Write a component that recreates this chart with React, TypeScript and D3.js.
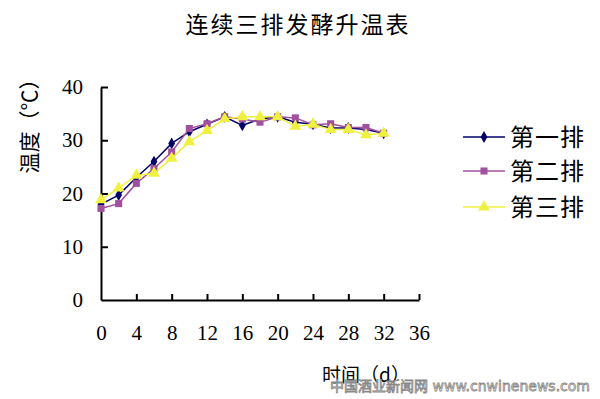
import { useEffect, useRef } from 'react';
import * as d3 from 'd3';

const days = [0, 2, 4, 6, 8, 10, 12, 14, 16, 18, 20, 22, 24, 26, 28, 30, 32];
const row1 = [18, 19.7, 23, 26, 29.4, 31.6, 33, 34.4, 32.8, 34, 34.4, 33.4, 33, 32.3, 32.3, 32, 31.3];
const row2 = [17.2, 18.1, 21.9, 24.7, 27.8, 32.2, 33.1, 34.4, 34, 33.4, 34.4, 34.2, 32.9, 33.1, 32.4, 32.4, 31.3];
const row3 = [18.8, 21, 23.4, 23.8, 26.6, 29.7, 31.8, 34, 34.4, 34.4, 34.4, 32.6, 33, 32, 32, 31, 31.3];
const seriesNames = ['第一排', '第二排', '第三排'];
const xTicks = [0, 4, 8, 12, 16, 20, 24, 28, 32, 36];
const yTicks = [0, 10, 20, 30, 40];

const colors = ['#000066', '#a0509f', '#f0f040'];
const symbols = [d3.symbolDiamond, d3.symbolSquare, d3.symbolTriangle];
const symSizes = [40, 50, 60];

const W = 600;
const H = 399;
const FONT = '"Liberation Serif", "Noto Sans CJK SC", serif';
const CJK = '"Noto Sans CJK SC", sans-serif';

const App = () => {
    const svgRef = useRef<SVGSVGElement | null>(null);

    useEffect(() => {
        if (!svgRef.current) return;
        const svg = d3.select(svgRef.current);
        svg.selectAll('*').remove();

        const x = d3.scaleLinear().domain([0, 36]).range([101, 419]);
        const y = d3.scaleLinear().domain([0, 40]).range([300, 87]);

        svg.append('rect').attr('width', W).attr('height', H).attr('fill', '#fff');

        // title
        svg.append('text')
            .attr('x', 298).attr('y', 33)
            .attr('text-anchor', 'middle')
            .attr('font-family', CJK)
            .attr('font-size', 23)
            .attr('letter-spacing', 2)
            .text('连续三排发酵升温表');

        // axes
        const yAxis = svg.append('g')
            .attr('transform', 'translate(101,0)')
            .call(d3.axisLeft(y).tickValues(yTicks).tickSizeInner(-7).tickSizeOuter(0).tickPadding(18));
        const xAxis = svg.append('g')
            .attr('transform', 'translate(0,300)')
            .call(d3.axisBottom(x).tickValues(xTicks).tickSizeInner(-6).tickSizeOuter(0).tickPadding(25));
        [yAxis, xAxis].forEach((g) => {
            g.select('.domain').attr('stroke', '#000').attr('stroke-width', 2);
            g.selectAll('.tick line').attr('stroke', '#000').attr('stroke-width', 2);
            g.selectAll('.tick text')
                .attr('font-family', FONT)
                .attr('font-size', 21)
                .attr('fill', '#000');
        });
        xAxis.selectAll('.tick').filter((d) => d === 0).select('line').remove();
        yAxis.selectAll('.tick').filter((d) => d === 0).select('line').remove();

        // axis titles
        svg.append('text')
            .attr('transform', 'translate(37,121) rotate(-90)')
            .attr('text-anchor', 'middle')
            .attr('font-family', CJK)
            .attr('font-size', 21)
            .text('温度（℃）');
        svg.append('text')
            .attr('x', 366).attr('y', 382)
            .attr('text-anchor', 'middle')
            .attr('font-family', CJK)
            .attr('font-size', 19)
            .text('时间（d）');

        const allSeries = [row1, row2, row3];
        const line = d3.line<number>()
            .x((_, i) => x(days[i]))
            .y((v) => y(v));

        allSeries.forEach((vals, s) => {
            const g = svg.append('g');
            g.append('path')
                .datum(vals)
                .attr('fill', 'none')
                .attr('stroke', colors[s])
                .attr('stroke-width', 1.5)
                .attr('d', line);
            g.selectAll('path.pt')
                .data(vals)
                .join('path')
                .attr('class', 'pt')
                .attr('transform', (v, i) => `translate(${x(days[i])},${y(v)})`)
                .attr('fill', colors[s])
                .attr('d', d3.symbol().type(symbols[s]).size(symSizes[s])());
        });

        // legend
        const legY = [137, 171, 207];
        seriesNames.forEach((name, s) => {
            const g = svg.append('g').attr('transform', `translate(0,${legY[s]})`);
            g.append('line')
                .attr('x1', 463).attr('x2', 505)
                .attr('stroke', colors[s]).attr('stroke-width', 1.5);
            g.append('path')
                .attr('transform', 'translate(484,0)')
                .attr('fill', colors[s])
                .attr('d', d3.symbol().type(symbols[s]).size(symSizes[s])());
            g.append('text')
                .attr('x', 510).attr('y', 9)
                .attr('font-family', CJK)
                .attr('font-size', 24)
                .attr('letter-spacing', 1)
                .text(name);
        });

        // watermark
        svg.append('text')
            .attr('x', 590).attr('y', 391)
            .attr('text-anchor', 'end')
            .attr('font-family', '"DejaVu Sans", "Noto Sans CJK SC", sans-serif')
            .attr('font-size', 14)
            .attr('fill', '#fff')
            .attr('stroke', '#888')
            .attr('stroke-width', 0.8)
            .text('中国酒业新闻网  www.cnwinenews.com');
    }, []);

    return (
        <svg
            ref={svgRef}
            width={W}
            height={H}
            style={{ position: 'absolute', left: 0, top: 0 }}
        />
    );
};

export default App;
